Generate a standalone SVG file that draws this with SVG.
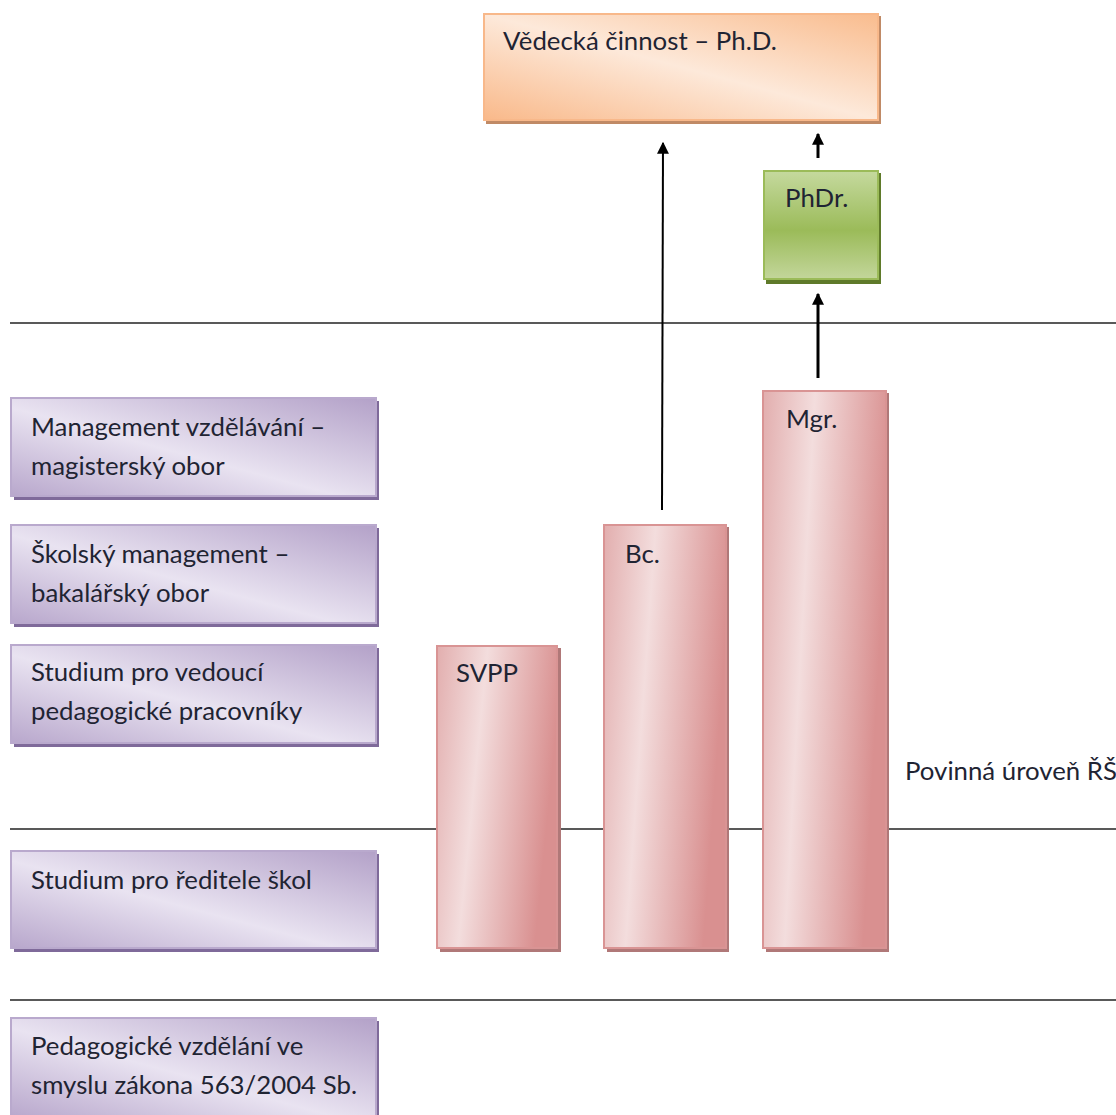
<svg xmlns="http://www.w3.org/2000/svg" width="1116" height="1115" viewBox="0 0 1116 1115">
<defs>
<linearGradient id="gPurple" x1="0" y1="1" x2="1" y2="0">
<stop offset="0" stop-color="#b8a7cc"/>
<stop offset="0.45" stop-color="#e9e3f1"/>
<stop offset="1" stop-color="#b3a1c8"/>
</linearGradient>
<linearGradient id="gPink" x1="0" y1="0" x2="1" y2="0.25">
<stop offset="0" stop-color="#e2aeae"/>
<stop offset="0.4" stop-color="#f3dddd"/>
<stop offset="1" stop-color="#d99090"/>
</linearGradient>
<linearGradient id="gOrange" x1="0" y1="1" x2="1" y2="0">
<stop offset="0" stop-color="#f9b98a"/>
<stop offset="0.5" stop-color="#fde9da"/>
<stop offset="1" stop-color="#f9bc8e"/>
</linearGradient>
<linearGradient id="gGreen" x1="0" y1="0" x2="0" y2="1">
<stop offset="0" stop-color="#c5d99e"/>
<stop offset="0.55" stop-color="#9bbb59"/>
<stop offset="1" stop-color="#c3d69b"/>
</linearGradient>
<marker id="arr" viewBox="0 0 10 10" refX="9" refY="5" markerWidth="4" markerHeight="4" orient="auto" markerUnits="strokeWidth">
<path d="M0,0 L10,5 L0,10 z" fill="#000"/>
</marker>
<marker id="arrT" viewBox="0 0 10 10" refX="9" refY="5" markerWidth="6" markerHeight="6" orient="auto" markerUnits="strokeWidth">
<path d="M0,0 L10,5 L0,10 z" fill="#000"/>
</marker>
</defs>
<style>
text{font-family:Lato,"Open Sans","Liberation Sans",sans-serif;font-size:25.8px;fill:#1f2433}
.purple{fill:url(#gPurple);stroke:#b9a9cd;stroke-width:2}
.pshadow{fill:#7f6a9a}
.pink{fill:url(#gPink);stroke:#d99494;stroke-width:2}
.pinkshadow{fill:#b07878}
.hline{stroke:#222;stroke-width:1.5}
</style>
<rect width="1116" height="1115" fill="#fff"/>
<g id="lines">
<line class="hline" x1="10" y1="323" x2="1116" y2="323"/>
<line class="hline" x1="10" y1="829" x2="1116" y2="829"/>
<line class="hline" x1="10" y1="1000" x2="1116" y2="1000"/>
</g>
<g id="phd">
<rect x="486" y="16" width="395" height="108" fill="#c08a66"/>
<rect x="484" y="14" width="394" height="106" fill="url(#gOrange)" stroke="#f8b88a" stroke-width="2"/>
<text x="503" y="50">Vědecká činnost – Ph.D.</text>
</g>
<g id="phdr">
<rect x="766" y="173" width="115" height="111" fill="#5f7a2a"/>
<rect x="764" y="171" width="114" height="108" fill="url(#gGreen)" stroke="#9bbb59" stroke-width="2"/>
<text x="785" y="207">PhDr.</text>
</g>
<g id="m1">
<rect class="pshadow" x="14" y="401" width="365" height="99"/>
<rect class="purple" x="11" y="398" width="365" height="98"/>
<text x="31" y="436">Management vzdělávání –</text>
<text x="31" y="475">magisterský obor</text>
</g>
<g id="m2">
<rect class="pshadow" x="14" y="528" width="365" height="99"/>
<rect class="purple" x="11" y="525" width="365" height="98"/>
<text x="31" y="563">Školský management –</text>
<text x="31" y="602">bakalářský obor</text>
</g>
<g id="m3">
<rect class="pshadow" x="14" y="648" width="365" height="99"/>
<rect class="purple" x="11" y="645" width="365" height="98"/>
<text x="31" y="681">Studium pro vedoucí</text>
<text x="31" y="720">pedagogické pracovníky</text>
</g>
<g id="m4">
<rect class="pshadow" x="14" y="854" width="365" height="98"/>
<rect class="purple" x="11" y="851" width="365" height="97"/>
<text x="31" y="889">Studium pro ředitele škol</text>
</g>
<g id="m5">
<rect class="pshadow" x="14" y="1021" width="365" height="100"/>
<rect class="purple" x="11" y="1018" width="365" height="100"/>
<text x="31" y="1055">Pedagogické vzdělání ve</text>
<text x="31" y="1094">smyslu zákona 563/2004 Sb.</text>
</g>
<g id="svpp">
<rect class="pinkshadow" x="440" y="648" width="121" height="304"/>
<rect class="pink" x="437" y="646" width="120" height="302"/>
<text x="456" y="682">SVPP</text>
</g>
<g id="bc">
<rect class="pinkshadow" x="607" y="527" width="122" height="425"/>
<rect class="pink" x="604" y="525" width="122" height="423"/>
<text x="625" y="563">Bc.</text>
</g>
<g id="mgr">
<rect class="pinkshadow" x="766" y="393" width="123" height="559"/>
<rect class="pink" x="763" y="391" width="123" height="557"/>
<text x="786" y="428">Mgr.</text>
</g>
<g id="label">
<text x="905" y="780">Povinná úroveň ŘŠ</text>
</g>
<g id="connectors" stroke="#000" fill="none">
<line x1="662" y1="510" x2="663" y2="143" stroke-width="2" marker-end="url(#arrT)"/>
<line x1="818" y1="378" x2="818" y2="294" stroke-width="3" marker-end="url(#arr)"/>
<line x1="818" y1="158" x2="818" y2="134" stroke-width="3" marker-end="url(#arr)"/>
</g>
</svg>
